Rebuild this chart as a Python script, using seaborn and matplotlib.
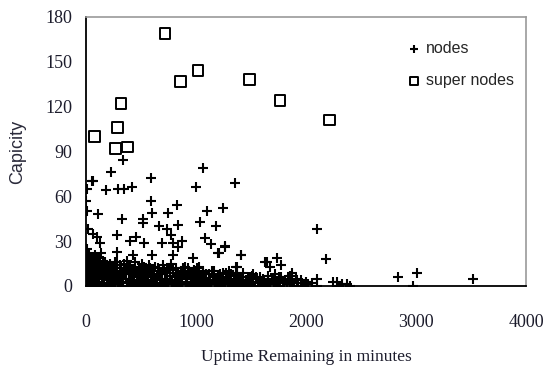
import numpy as np
import pandas as pd
import matplotlib
matplotlib.use("Agg")
import matplotlib.pyplot as plt
import seaborn as sns

# super nodes (uptime remaining, capacity)
super_x = [79, 270, 285, 318, 379, 718, 861, 1018, 1488, 1764, 2212]
super_y = [100, 92, 106, 122, 93, 169, 137, 144, 138, 124, 111]

# nodes: scattered points above the dense band
outlier_x = [12, 52, 67, 182, 227, 294, 333, 345, 421, 588, 1003, 1064, 1352,
             0, 588, 12, 106, 324, 515, 597, 745, 830, 1097, 1242, 1036, 521,
             660, 739, 833, 1182, 15, 67, 97, 127, 279, 400, 455, 527, 694,
             770, 788, 875, 839, 1085, 1133, 1260, 1212, 1406, 970, 1030, 794,
             603, 430, 279, 136, 1370, 1303, 2103, 2179, 1627, 1673, 1733,
             1770, 1870, 1264, 1203, 1364, 1506, 1409, 1648]
outlier_y = [65, 70, 70, 64, 76, 65, 84, 65, 66, 72, 66, 79, 69,
             57, 57, 50, 48, 45, 45, 49, 49, 54, 50, 52, 43, 42,
             40, 38, 41, 40, 38, 35, 33, 29, 34, 30, 33, 29, 29,
             34, 29, 30, 26, 32, 28, 27, 22, 21, 19, 13, 21,
             21, 21, 23, 22, 13, 10, 38, 18, 16, 13, 19,
             14, 9, 26, 22, 13, 7, 21, 16]

# nodes: dense band near zero capacity
band_x = [0, 0, 0, 0, 5, 10, 12, 15, 20, 22, 25, 28, 35, 38, 40, 45, 50, 52,
          55, 60, 65, 70, 72, 78, 85, 88, 92, 100, 105, 110, 115, 120, 125,
          130, 140, 145, 150, 155,
          165, 170, 180, 190, 200, 210, 215, 225, 235, 245, 255, 260, 270,
          280, 290, 300, 310, 320, 330, 340, 350, 360, 370, 380, 390, 400,
          410, 420, 430, 440, 450, 460, 470, 480, 490, 500, 510, 520, 530,
          540, 550, 560, 570, 580, 590, 600,
          610, 625, 635, 645, 660, 670, 685, 700, 710, 720, 735, 745, 760,
          770, 785, 795, 810, 820, 835, 845, 860, 870, 885, 900, 910, 920,
          935, 950, 960, 975, 985, 1000, 1010, 1025, 1040, 1050, 1065, 1080,
          1090, 1105, 1120, 1135, 1150, 1160, 1175, 1190, 1200,
          1215, 1230, 1245, 1260, 1275, 1290, 1305, 1320, 1335, 1350, 1365,
          1380, 1395, 1410, 1425, 1440, 1455, 1470, 1485, 1500, 1520, 1535,
          1550, 1570, 1585, 1600, 1620, 1640, 1655, 1670, 1690, 1705, 1720,
          1740, 1760, 1775, 1790, 1810, 1830, 1850, 1870, 1890, 1910, 1930,
          1950, 1975, 2000, 2020, 2050,
          2097, 2097, 2248, 2279, 2300, 2330, 2370, 2400, 2833, 3006, 2976,
          3521]
band_y = [2, 8, 14, 20, 25, 4, 11, 17, 1, 7, 13, 22, 3, 9, 15, 19, 0, 6,
          12, 18, 2, 8, 14, 21, 4, 10, 16, 1, 7, 13, 19, 3, 9,
          15, 0, 6, 12, 17,
          2, 8, 13, 4, 10, 1, 15, 6, 11, 2, 8, 16, 4,
          12, 1, 7, 14, 3, 9, 0, 12, 5, 17, 2, 9, 14,
          4, 11, 0, 7, 13, 3, 9, 1, 12, 5, 15, 2, 8,
          0, 11, 4, 14, 1, 7, 10,
          3, 13, 0, 6, 10, 2, 8, 14, 0, 5, 11, 2, 7,
          15, 1, 9, 4, 12, 0, 6, 10, 2, 8, 13, 1, 5,
          10, 3, 7, 0, 11, 4, 8, 1, 6, 2, 9, 0,
          5, 3, 8, 1, 6, 10, 2, 4, 7,
          0, 5, 9, 2, 6, 1, 4, 8, 0, 3, 7,
          1, 5, 2, 9, 0, 4, 6, 1, 3, 8, 0,
          5, 2, 6, 1, 4, 0, 7, 2, 5, 1, 8,
          3, 0, 6, 2, 4, 1, 7, 3, 0, 5, 2,
          4, 0, 3, 1, 2,
          5, 0, 3, 3, 0, 1, 1, 0, 6, 9, 0,
          4.5]

# more nodes filling the band
fill_x = [3, 8, 18, 30, 42, 58, 75, 95, 112, 135, 160, 185, 205, 230, 250,
          275, 295, 315, 335, 355, 375, 395, 415, 435, 455, 475, 495, 515,
          535, 555, 575, 595, 615, 640, 665, 690, 715, 740, 765, 790, 815,
          840, 865, 890, 915, 940, 965, 990, 1015, 1045, 1070, 1095, 1125,
          1155, 1185, 1220, 1250, 1280, 1310, 1345, 1375, 1400, 1430, 1460,
          1490, 1515, 1545, 1580, 1610, 1650, 1700, 1750, 1800, 1840, 1880,
          1920, 1960,
          6, 14, 26, 36, 48, 63, 82, 102, 122, 148, 172, 196, 220, 240, 265,
          285, 305, 325, 345, 365, 385, 405, 425, 445, 465, 485, 505, 525,
          545, 565, 585, 605, 630, 655, 680, 705, 730, 755, 780, 805, 830,
          855, 880, 905, 930, 955, 980, 1005, 1035, 1060, 1085, 1115, 1145,
          1170, 1205, 1240, 1270, 1300, 1330, 1360, 1390, 1420, 1450, 1480]
fill_y = [5, 11, 6, 10, 6, 10, 5, 11, 5, 10, 5, 11, 6, 10, 5,
          9, 4, 10, 5, 8, 11, 5, 8, 3, 10, 6, 8, 11,
          4, 7, 9, 3, 8, 4, 8, 5, 9, 4, 7, 11, 3,
          8, 5, 10, 3, 8, 5, 9, 3, 7, 4, 8, 3,
          7, 4, 8, 3, 6, 3, 5, 8, 3, 6, 2,
          6, 3, 6, 3, 5, 3, 4, 6, 3, 5, 2,
          4, 2,
          1, 18, 15, 16, 12, 16, 13, 17, 1, 12, 16, 0, 14, 13, 1,
          16, 12, 0, 15, 10, 13, 1, 10, 16, 0, 11, 2, 13,
          10, 1, 12, 6, 1, 12, 1, 11, 3, 12, 4, 1, 9,
          1, 12, 6, 12, 1, 5, 12, 2, 10, 1, 4, 10,
          1, 5, 2, 9, 4, 1, 9, 1, 4, 1, 3]

nodes = pd.DataFrame({"uptime": band_x + fill_x + outlier_x,
                      "capacity": band_y + fill_y + outlier_y})
supers = pd.DataFrame({"uptime": super_x, "capacity": super_y})

sns.set_style("white")
serif = "Liberation Serif"
sans = "Liberation Sans"

fig = plt.figure(figsize=(5.46, 3.66), dpi=100)
ax = fig.add_axes([0.1575, 0.2186, 0.8059, 0.735])

sns.scatterplot(data=nodes, x="uptime", y="capacity", marker="+", color="black",
                s=50, linewidth=1.5, label="nodes", ax=ax)
sns.scatterplot(data=supers, x="uptime", y="capacity", marker="s", fc="none",
                ec="black", s=60, linewidth=1.4, label="super nodes", ax=ax)

ax.set_xlim(0, 4000)
ax.set_ylim(0, 180)
ax.set_xticks([0, 1000, 2000, 3000, 4000])
ax.set_yticks([0, 30, 60, 90, 120, 150, 180])
ax.tick_params(axis="x", direction="in", length=3, pad=20, labelsize=13)
ax.tick_params(axis="y", direction="in", length=3, pad=10, labelsize=13)
for lab in ax.get_xticklabels() + ax.get_yticklabels():
    lab.set_fontfamily(serif)
    lab.set_color("#1c1c2c")

for side in ["left", "bottom"]:
    ax.spines[side].set_color("black")
    ax.spines[side].set_linewidth(1.3)
for side in ["top", "right"]:
    ax.spines[side].set_color("#9a9a9a")
    ax.spines[side].set_linewidth(1.2)

ax.set_xlabel("Uptime Remaining in minutes", fontfamily=serif, fontsize=12.5,
              color="#1c1c2c", labelpad=13)
ax.set_ylabel("Capicity", fontfamily=sans, fontsize=13, color="#2a2a3a", labelpad=14)

leg = ax.legend(loc="upper right", bbox_to_anchor=(1.005, 0.965), frameon=False,
                prop={"family": sans, "size": 11.5}, handletextpad=0.25,
                labelspacing=1.1, handlelength=1.0, markerscale=0.8)

fig.savefig("out.png", dpi=100)
